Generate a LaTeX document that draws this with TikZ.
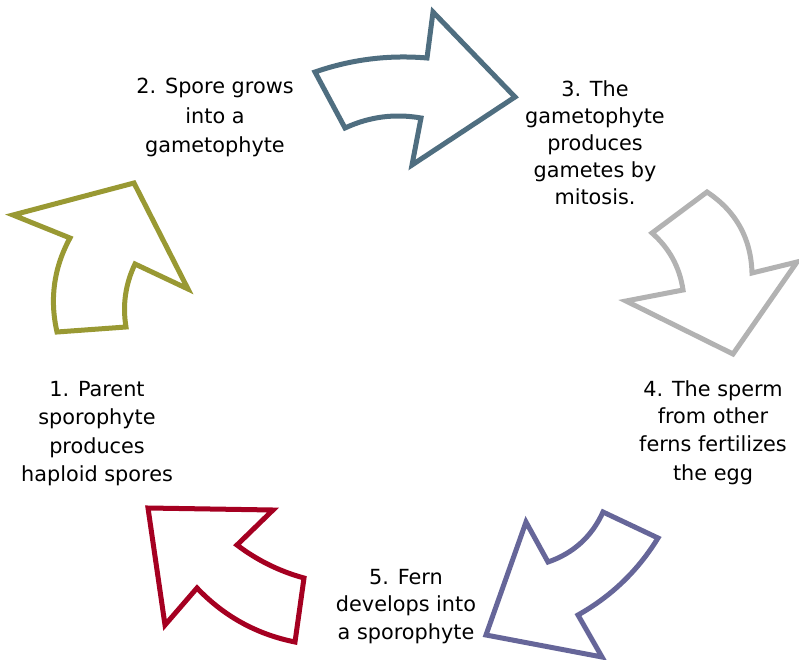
\documentclass[tikz,border=0pt]{standalone}
\usepackage{fontspec}
\setmainfont{DejaVu Sans}
\definecolor{arrOlive}{RGB}{153,153,51}
\definecolor{arrBlue}{RGB}{79,110,128}
\definecolor{arrGray}{RGB}{178,178,178}
\definecolor{arrPurple}{RGB}{102,102,153}
\definecolor{arrRed}{RGB}{165,0,33}
\definecolor{txt}{RGB}{0,0,0}
\begin{document}
\begin{tikzpicture}[x=1pt,y=-1pt,
  cyclearrow/.style={line width=5pt,line join=miter,fill=white},
  lbl/.style={align=center,anchor=north,inner sep=0pt,text=txt,
    font=\fontsize{20.8}{27}\selectfont}]
\useasboundingbox (0,0) rectangle (799,660);
% arrows
\draw[cyclearrow,draw=arrOlive] (57,332) .. controls (49.5,299) and (53.8,267.7) .. (70,238) -- (13,215) -- (134,183) -- (188,289) -- (135,264) .. controls (125.4,284.1) and (122.4,305.1) .. (126,327) -- cycle;
\draw[cyclearrow,draw=arrBlue] (315,72) .. controls (351.3,59.4) and (388.7,54.7) .. (427,58) -- (433,12) -- (515,97) -- (412,165) -- (421,118) .. controls (394.6,113.4) and (369.3,116.7) .. (345,128) -- cycle;
\draw[cyclearrow,draw=arrGray] (707,192) .. controls (736,211.2) and (751,238.2) .. (752,273) -- (797,262) -- (733,354) -- (626,301) -- (683,290) .. controls (679.7,267.2) and (669.3,248.2) .. (652,233) -- cycle;
\draw[cyclearrow,draw=arrPurple] (548,562) .. controls (573.5,553.2) and (591.9,536.5) .. (603,512) -- (658,538) .. controls (638,570.6) and (611.3,596.3) .. (578,615) -- (602,657) -- (486,635) -- (526,522) -- cycle;
\draw[cyclearrow,draw=arrRed] (148,508) -- (273,510) -- (237,545) .. controls (257.2,560.3) and (279.5,571.3) .. (304,578) -- (295,642) .. controls (256.7,634.3) and (224,616.3) .. (197,588) -- (165,625) -- cycle;
% labels
\node[lbl,font=\fontsize{20.8}{28.5}\selectfont] (s1) at (97,381) {1. Parent\\sporophyte\\produces\\haploid spores};
\node[lbl,font=\fontsize{20.8}{29.5}\selectfont] (s2) at (215,78) {2. Spore grows\\into a\\gametophyte};
\node[lbl] (s3) at (595,80) {3. The\\gametophyte\\produces\\gametes by\\mitosis.};
\node[lbl,font=\fontsize{20.8}{27.5}\selectfont] (s4) at (713,380) {4. The sperm\\from other\\ferns fertilizes\\[2pt]the egg};
\node[lbl,font=\fontsize{20.8}{27.5}\selectfont] (s5) at (406,569) {5. Fern\\develops into\\a sporophyte};
\end{tikzpicture}
\end{document}
